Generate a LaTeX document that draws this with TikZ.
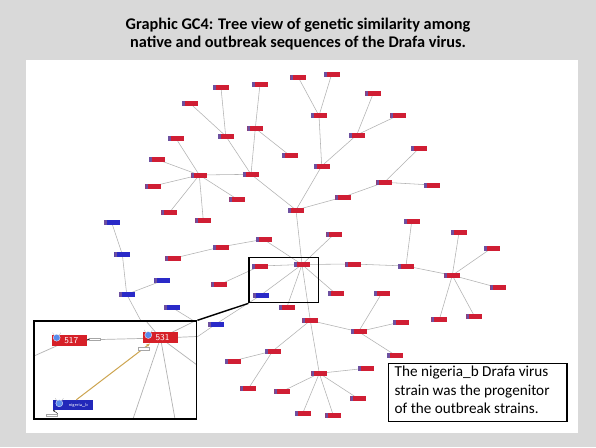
\documentclass[tikz,border=0pt]{standalone}
\usepackage{fontspec}
\setmainfont{Carlito}
\usetikzlibrary{arrows.meta}
\definecolor{bggrey}{RGB}{217,217,217}
\definecolor{nodered}{RGB}{208,30,52}
\definecolor{nodeblue}{RGB}{42,42,200}
\definecolor{iconpurple}{RGB}{110,80,160}
\definecolor{edgegrey}{RGB}{178,178,178}
\definecolor{bigred}{RGB}{214,32,40}
\definecolor{bigblue}{RGB}{34,40,186}
\definecolor{iconblue}{RGB}{90,140,235}
\definecolor{tan}{RGB}{205,165,80}
\pgfdeclarelayer{bg}
\pgfdeclarelayer{edges}
\pgfsetlayers{bg,edges,main}
\tikzset{
  smallnode/.style={rectangle, minimum width=16pt, minimum height=5pt, inner sep=0pt,
    path picture={\fill[iconpurple] (path picture bounding box.south west) rectangle ([xshift=3pt]path picture bounding box.north east -| path picture bounding box.west);}},
  rn/.style={smallnode, fill=nodered},
  bn/.style={smallnode, fill=nodeblue},
  edge/.style={draw=edgegrey, line width=0.55pt},
  frame/.style={draw=black, line width=1.4pt},
  tag/.style={rectangle, draw=gray!70, fill=white, minimum width=11pt, minimum height=2.5pt, inner sep=0pt, line width=0.3pt},
  icon/.style={circle, fill=iconblue, draw=white, line width=0.3pt, minimum size=7pt, inner sep=0pt}
}
\begin{document}
\begin{tikzpicture}[x=1pt,y=-1pt]
\begin{pgfonlayer}{bg}
\fill[bggrey] (0,0) rectangle (596,447);
\fill[white] (25.5,59.5) rectangle (577.5,433);
\end{pgfonlayer}
\useasboundingbox (0,0) rectangle (596,447);

\node[font=\bfseries\fontsize{16.3}{18}\selectfont, align=center] (title) at (298,34.5)
  {Graphic GC4: Tree view of genetic similarity among\\native and outbreak sequences of the Drafa virus.};

% red nodes
\foreach \n/\x/\y in {
  A/296/210, P/251/174.3, Q/321.7/166, R/343.3/197, S/199.3/175, T/255.3/128.3, U/225.7/136,
  u1/221/87.7, u2/190/103.3, t1/260/84, t2/290/155.7,
  s1/175.7/138, s2/156.7/159.3, s3/153.3/186, s4/237.3/199.3, s5/169.3/212.7, s6/203.3/220.7,
  V/319/115.7, v1/298.3/77.3, v2/331.7/74, W/356.7/135, w1/373.3/93.3, w2/398.3/115.3,
  X/384.3/182.3, x1/419/148.3, x2/432/185,
  H/302/264.5, h1/334.3/234, h2/263.5/239.3, h3/220.5/247, h4/173.3/258.3,
  B1/260/266, h5/219.3/284.7, h6/286.7/307.7, h7/335.7/293.7,
  M/353.3/264, K/406/266, k1/411.7/221.3, L/452.3/275.3,
  l1/459/232.3, l2/491.7/248, l3/498.3/287.7, l4/474.3/316, l5/439.3/319.7,
  Y/310.3/320.5, y1/272.7/351, y11/232.7/361, y12/248.3/388.7,
  y2/358.5/331.7, y21/381.7/293.3, y22/400.7/322, y23/395/355,
  Z/319.3/373.3, z1/365.7/368.3, z2/282.3/391.3, z3/358.3/398.7, z4/302.7/413.3, z5/333.3/415.3}
  \node[rn] (\n) at (\x,\y) {};

% blue nodes
\foreach \n/\x/\y in {B2/261/295, b1/111.7/222.7, b2/122.3/254.3, b3/126.7/294.3, b4/162.3/280.7, b5/171.7/307.3, b6/216/324}
  \node[bn] (\n) at (\x,\y) {};

\coordinate (e1) at (141,321);
\coordinate (e2) at (194,321);
\coordinate (e3) at (197,337);

\begin{pgfonlayer}{edges}
\foreach \a/\b in {A/P, A/Q, A/R, A/H, P/S, P/T, P/U, U/u1, U/u2, T/t1, T/t2,
  S/s1, S/s2, S/s3, S/s4, S/s5, S/s6, Q/V, Q/W, V/v1, V/v2, W/w1, W/w2, R/X, X/x1, X/x2,
  H/h1, H/h2, h2/h3, h3/h4, H/B1, B1/h5, H/B2, H/h6, H/h7, H/M, M/K, K/k1, K/L,
  L/l1, L/l2, L/l3, L/l4, L/l5, H/Y, Y/Z, Y/y1, y1/y11, y1/y12, Y/y2, y2/y21, y2/y22, y2/y23,
  Z/z1, Z/z2, Z/z3, Z/z4, Z/z5,
  b1/b2, b2/b3, b3/b4, b3/e1, b5/e2, b6/B2, b6/e3}
  \draw[edge] (\a.center) -- (\b.center);
\end{pgfonlayer}

% highlight box and connector
\node[frame, rectangle, minimum width=69.3pt, minimum height=45pt, inner sep=0pt] (hbox) at (283.65,280.2) {};

% inset
\node[frame, fill=white, rectangle, minimum width=162.7pt, minimum height=98pt, inner sep=0pt] (inset) at (115.35,370) {};
\draw[black, line width=1.4pt] (inset.north east) -- (hbox.south west);
\begin{scope}
\clip (34.7,321.7) rectangle (196,418.3);
\coordinate (c531) at (160.5,338);
\coordinate (c517) at (69.2,340.3);
\coordinate (i1) at (146,321);
\coordinate (i2) at (197,320);
\coordinate (i3) at (197,336.5);
\coordinate (i4) at (197,365);
\coordinate (i5) at (133,419);
\coordinate (i6) at (175,419);
\coordinate (i7) at (34,356);
\foreach \t in {i1,i2,i3,i4,i5,i6}
  \draw[edge, line width=0.7pt] (c531) -- (\t);
\draw[edge, line width=0.7pt] (c517) -- (i7);
\draw[edge, line width=0.7pt] (c517) -- (c531);
\node[rectangle, fill=bigred, minimum width=35pt, minimum height=11pt, inner sep=0pt, text=white,
  font=\sffamily\fontsize{9}{9}\selectfont] (n517) at (c517) {\hspace{4pt}517};
\node[rectangle, fill=bigred, minimum width=35.6pt, minimum height=11pt, inner sep=0pt, text=white,
  font=\sffamily\fontsize{9}{9}\selectfont] (n531) at (160.5,337.8) {\hspace{4pt}531};
\node[rectangle, fill=bigblue, minimum width=40pt, minimum height=10pt, inner sep=0pt, text=white,
  font=\sffamily\fontsize{4.5}{4.5}\selectfont, text depth=0pt] (nig) at (73.3,405) {\hspace{10pt}nigeria\_b};
\node[icon] (ic1) at (56.7,337.7) {};
\node[icon] (ic2) at (148.3,335) {};
\node[icon] (ic3) at (59.3,403.3) {};
\foreach \ic in {ic1,ic2,ic3}{
  \draw[gray!60, line width=0.3pt] (\ic.north west) -- ++(-1.5,-2.5);
  \draw[gray!60, line width=0.3pt] (\ic.north east) -- ++(1.5,-2.5);
}
\draw[tan, line width=1pt, -{Stealth[length=4pt,width=3pt]}] (nig.north) ++(3,0) coordinate (o1) -- (150,343.5) coordinate (o2);
\node[tag] (tg1) at (95,339) {};
\draw[black, line width=0.4pt, -{Stealth[length=2pt,width=1.6pt]}] (tg1.west) -- (n517.east);
\node[tag] (tg2) at (144,348.5) {};
\node[tag] (tg3) at (52,415) {};
\draw[black, line width=0.4pt, -{Stealth[length=2pt,width=1.6pt]}] (tg3.north east) -- (nig.south west);
\end{scope}
\node[frame, rectangle, minimum width=162.7pt, minimum height=98pt, inner sep=0pt] (insetframe) at (115.35,370) {};

% text box
\node[draw=black, line width=1.2pt, fill=white, rectangle, minimum width=178.7pt, minimum height=58pt, inner sep=0pt] (tbox) at (477.7,392.3) {};
\node[anchor=north west, inner sep=0pt, align=left, font=\fontsize{15.2}{18.3}\selectfont] (ttext) at (394.5,366)
  {The nigeria\_b Drafa virus\\strain was the progenitor\\of the outbreak strains.};
\end{tikzpicture}
\end{document}
